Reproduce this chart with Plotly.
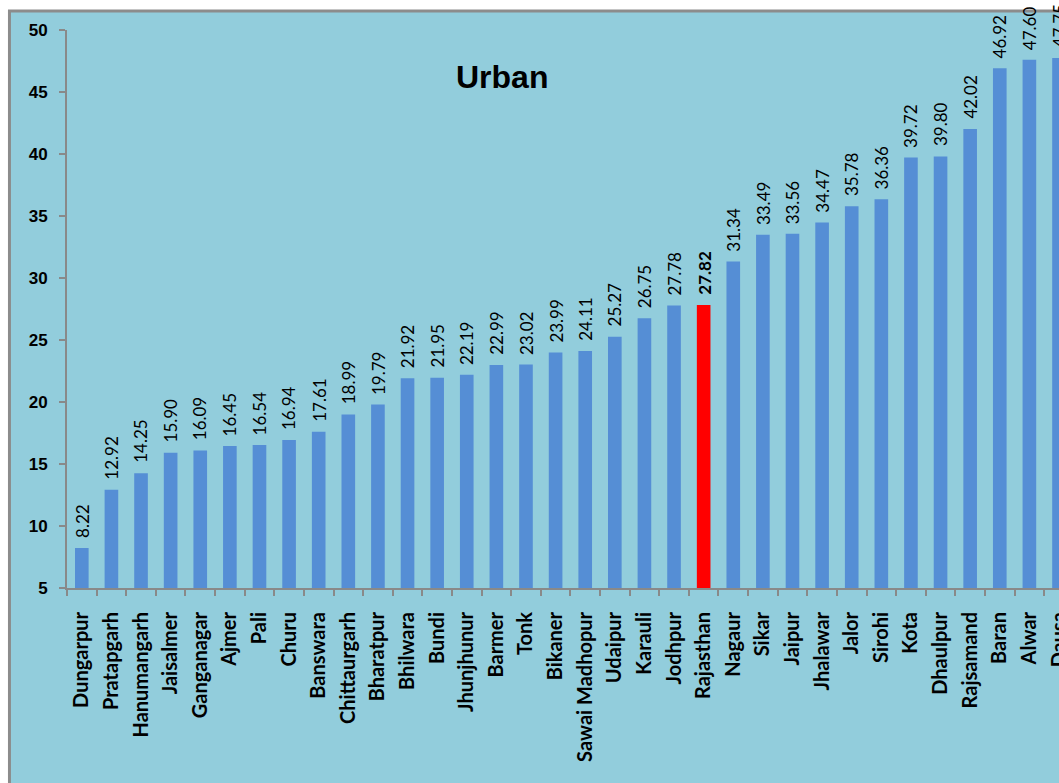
import plotly.graph_objects as go

districts = ["Dungarpur", "Pratapgarh", "Hanumangarh", "Jaisalmer", "Ganganagar", "Ajmer", "Pali",
             "Churu", "Banswara", "Chittaurgarh", "Bharatpur", "Bhilwara", "Bundi", "Jhunjhunur",
             "Barmer", "Tonk", "Bikaner", "Sawai Madhopur", "Udaipur", "Karauli", "Jodhpur",
             "Rajasthan", "Nagaur", "Sikar", "Jaipur", "Jhalawar", "Jalor", "Sirohi", "Kota",
             "Dhaulpur", "Rajsamand", "Baran", "Alwar", "Dausa"]
values = [8.22, 12.92, 14.25, 15.90, 16.09, 16.45, 16.54, 16.94, 17.61, 18.99, 19.79, 21.92,
          21.95, 22.19, 22.99, 23.02, 23.99, 24.11, 25.27, 26.75, 27.78, 27.82, 31.34, 33.49,
          33.56, 34.47, 35.78, 36.36, 39.72, 39.80, 42.02, 46.92, 47.60, 47.75]
highlight = "Rajasthan"
y_ticks = [5, 10, 15, 20, 25, 30, 35, 40, 45, 50]

colors = ["#FF0000" if d == highlight else "#558ED5" for d in districts]

fig = go.Figure()
fig.add_trace(go.Bar(
    x=districts, y=values, marker=dict(color=colors, line=dict(width=0)),
    width=0.46, hoverinfo="x+y",
))

for d, v in zip(districts, values):
    txt = f"<b>{v:.2f}</b>" if d == highlight else f"{v:.2f}"
    fig.add_annotation(x=d, y=v, text=txt, textangle=-90, showarrow=False,
                       xanchor="center", yanchor="bottom", yshift=8,
                       font=dict(family="Lato, sans-serif", size=17, color="black"))

# outer chart frame (light blue with grey border)
fig.add_shape(type="rect", xref="paper", yref="paper",
              x0=-0.058, x1=1.05, y0=-0.4, y1=1.034,
              fillcolor="#92CDDC", line=dict(color="#8C8C8C", width=3), layer="below")

fig.add_annotation(text="<b>Urban</b>", xref="paper", yref="paper", x=0.4385, y=0.916,
                   xanchor="center", yanchor="middle", showarrow=False,
                   font=dict(family="Liberation Sans, Arial", size=32, color="black"))

fig.update_layout(
    width=1059, height=783, margin=dict(l=67, r=0, t=30, b=195, autoexpand=False),
    paper_bgcolor="white", plot_bgcolor="white", showlegend=False,
    xaxis=dict(range=[-0.5, 33.0], tickangle=-90, showline=True, linecolor="#898989", linewidth=2,
               ticks="outside", tickson="boundaries", ticklen=6, tickcolor="#898989", tickwidth=2,
               automargin=False, ticklabelstandoff=14,
               tickfont=dict(family="Lato, sans-serif", size=20, color="black", weight="bold"),
               showgrid=False),
    yaxis=dict(range=[5, 50], tickvals=y_ticks, showline=True, linecolor="#898989", linewidth=2,
               ticks="outside", ticklen=6, tickcolor="#898989", tickwidth=2, showgrid=False,
               zeroline=False, automargin=False, ticklabelstandoff=8,
               tickfont=dict(family="Liberation Sans, Arial", size=17, color="black", weight="bold")),
)

fig.write_html("out.html", config={"displayModeBar": False},
               post_script="document.body.style.margin='0';document.body.style.overflow='hidden';")
